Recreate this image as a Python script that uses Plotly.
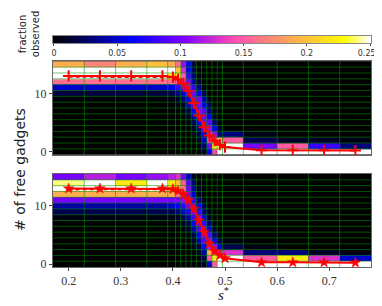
import numpy as np
import plotly.graph_objects as go

# ---------------- data ----------------
s_star = [0.20, 0.26, 0.32, 0.38, 0.40, 0.41, 0.42, 0.43, 0.44, 0.45, 0.46,
          0.47, 0.48, 0.49, 0.50, 0.57, 0.63, 0.69, 0.75]
n_free = list(range(16))  # rows 0..15

# fraction observed, rows listed from top (15) to bottom (0)
top_rows = [
    [.19, .17, .19, .20, .19, .16, .11, .06, .015, 0, 0, 0, 0, 0, 0, 0, 0, 0, 0],
    [.30, .30, .30, .30, .25, .20, .13, .06, .02, 0, 0, 0, 0, 0, 0, 0, 0, 0, 0],
    [.30, .30, .30, .30, .22, .21, .15, .08, .03, .005, 0, 0, 0, 0, 0, 0, 0, 0, 0],
    [.16, .16, .16, .16, .16, .15, .13, .10, .04, .01, 0, 0, 0, 0, 0, 0, 0, 0, 0],
    [.05, .05, .05, .05, .06, .08, .10, .11, .08, .03, .005, 0, 0, 0, 0, 0, 0, 0, 0],
    [.015, .015, .015, .015, .02, .03, .05, .09, .10, .06, .02, 0, 0, 0, 0, 0, 0, 0, 0],
    [.003, .003, .003, .003, .005, .01, .03, .06, .10, .10, .04, .005, 0, 0, 0, 0, 0, 0, 0],
    [0, 0, 0, 0, .002, .004, .01, .05, .08, .10, .06, .02, 0, 0, 0, 0, 0, 0, 0],
    [0, 0, 0, 0, 0, .002, .005, .02, .06, .10, .09, .03, .005, 0, 0, 0, 0, 0, 0],
    [0, 0, 0, 0, 0, 0, .002, .01, .04, .08, .10, .06, .01, 0, 0, 0, 0, 0, 0],
    [0, 0, 0, 0, 0, 0, 0, .005, .02, .06, .10, .09, .03, 0, 0, 0, 0, 0, 0],
    [0, 0, 0, 0, 0, 0, 0, .002, .01, .03, .10, .11, .06, .01, 0, 0, 0, 0, 0],
    [0, 0, 0, 0, 0, 0, 0, 0, .005, .02, .06, .13, .11, .03, .03, .005, 0, 0, 0],
    [0, 0, 0, 0, 0, 0, 0, 0, .002, .01, .05, .14, .15, .19, .15, .02, .01, .01, .005],
    [0, 0, 0, 0, 0, 0, 0, 0, .001, .005, .03, .10, .22, .24, .30, .10, .15, .08, .03],
    [0, 0, 0, 0, 0, 0, 0, 0, .001, .003, .01, .06, .14, .30, .30, .30, .30, .30, .30],
]

bot_rows = [
    [.10, .12, .10, .11, .12, .13, .10, .05, .01, 0, 0, 0, 0, 0, 0, 0, 0, 0, 0],
    [.24, .25, .22, .25, .22, .20, .15, .09, .03, .005, 0, 0, 0, 0, 0, 0, 0, 0, 0],
    [.30, .30, .30, .30, .22, .20, .16, .10, .04, .01, 0, 0, 0, 0, 0, 0, 0, 0, 0],
    [.19, .19, .19, .19, .19, .16, .14, .10, .05, .01, 0, 0, 0, 0, 0, 0, 0, 0, 0],
    [.10, .10, .10, .10, .10, .10, .11, .11, .08, .03, .005, 0, 0, 0, 0, 0, 0, 0, 0],
    [.04, .04, .04, .04, .05, .06, .08, .10, .10, .06, .02, 0, 0, 0, 0, 0, 0, 0, 0],
    [.02, .02, .02, .02, .02, .03, .05, .07, .10, .08, .03, .005, 0, 0, 0, 0, 0, 0, 0],
    [.005, .005, .005, .005, .005, .01, .02, .04, .08, .10, .05, .01, 0, 0, 0, 0, 0, 0, 0],
    [0, 0, 0, 0, 0, .004, .01, .02, .06, .10, .08, .03, .005, 0, 0, 0, 0, 0, 0],
    [0, 0, 0, 0, 0, 0, .004, .01, .04, .09, .10, .05, .01, 0, 0, 0, 0, 0, 0],
    [0, 0, 0, 0, 0, 0, 0, .005, .02, .06, .10, .09, .03, .005, 0, 0, 0, 0, 0],
    [0, 0, 0, 0, 0, 0, 0, .002, .01, .04, .09, .11, .06, .02, .005, 0, 0, 0, 0],
    [0, 0, 0, 0, 0, 0, 0, 0, .005, .02, .06, .12, .11, .05, .02, .005, 0, 0, 0],
    [0, 0, 0, 0, 0, 0, 0, 0, .002, .01, .04, .19, .15, .13, .13, .03, .03, .01, .005],
    [0, 0, 0, 0, 0, 0, 0, 0, .001, .005, .02, .15, .22, .26, .30, .15, .22, .13, .05],
    [0, 0, 0, 0, 0, 0, 0, 0, .001, .003, .01, .05, .15, .28, .30, .30, .30, .30, .30],
]

top_mean = [13.0, 13.0, 13.0, 13.0, 12.8, 12.4, 11.7, 10.4, 8.3, 6.2, 4.2,
            2.8, 1.9, 1.2, 0.8, 0.25, 0.25, 0.25, 0.2]
bot_mean = [13.0, 13.0, 13.0, 13.0, 12.9, 12.6, 12.0, 11.0, 9.5, 7.5, 5.5,
            3.5, 2.2, 1.5, 1.0, 0.3, 0.3, 0.3, 0.25]
top_dash = [12.85, 12.85, 12.85, 12.85, 12.8]
bot_dash = [12.85, 12.85, 12.85, 12.85, 12.9]

cbar_vals = [0, 0.05, 0.1, 0.15, 0.2, 0.25]
cbar_text = ["0", "0.05", "0.1", "0.15", "0.2", "0.25+"]

# ---------------- style ----------------
def gnuplot2(v):
    r = min(max(v / 0.32 - 0.78125, 0), 1)
    g = min(max(2 * v - 0.84, 0), 1)
    if v < 0.25:
        b = 4 * v
    elif v < 0.42:
        b = 1.0
    elif v < 0.92:
        b = -2 * v + 1.84
    else:
        b = v / 0.08 - 11.5
    b = min(max(b, 0), 1)
    return f"rgb({int(r*255)},{int(g*255)},{int(b*255)})"

cscale = [[t, gnuplot2(t)] for t in np.linspace(0, 1, 41)]
ZMAX = 0.25

xs = np.array(s_star)
mids = (xs[1:] + xs[:-1]) / 2
edges = np.concatenate([[xs[0] - (xs[1] - xs[0]) / 2], mids, [xs[-1] + (xs[-1] - xs[-2]) / 2]])
ys = np.array(n_free)
yedges = np.concatenate([[ys[0] - 0.5], (ys[1:] + ys[:-1]) / 2, [ys[-1] + 0.5]])

fig = go.Figure()

def add_panel(rows, mean, dash, symbol, xa, ya):
    z = np.minimum(np.array(rows[::-1], dtype=float), ZMAX)
    fig.add_trace(go.Heatmap(x=s_star, y=n_free, z=z, zmin=0, zmax=ZMAX, colorscale=cscale,
                             xaxis=xa, yaxis=ya, showscale=False, hoverinfo="skip"))
    # grid lines at cell boundaries
    gx, gy = [], []
    for e in edges[1:-1]:
        gx += [e, e, None]; gy += [yedges[0], yedges[-1], None]
    for e in yedges[1:-1]:
        gx += [edges[0], edges[-1], None]; gy += [e, e, None]
    fig.add_trace(go.Scatter(x=gx, y=gy, mode="lines", xaxis=xa, yaxis=ya,
                             line=dict(color="rgba(0,150,0,0.55)", width=1),
                             hoverinfo="skip", showlegend=False))
    fig.add_trace(go.Scatter(x=s_star[:len(dash)], y=dash, mode="lines", xaxis=xa, yaxis=ya,
                             line=dict(color="red", width=2, dash="4px,3px"),
                             hoverinfo="skip", showlegend=False))
    if symbol == "cross":
        mk = dict(symbol="cross-thin", size=8, color="red", line=dict(color="red", width=2))
    else:
        mk = dict(symbol="star", size=8, color="red", line=dict(color="red", width=0.5))
    fig.add_trace(go.Scatter(x=s_star, y=mean, mode="lines+markers", xaxis=xa, yaxis=ya,
                             line=dict(color="red", width=2), marker=mk,
                             hoverinfo="skip", showlegend=False))

add_panel(top_rows, top_mean, top_dash, "cross", "x", "y")
add_panel(bot_rows, bot_mean, bot_dash, "star", "x2", "y2")

# colour bar drawn as its own strip (the colour scale from 0 to 0.25+)
cb_x = np.linspace(0, ZMAX, 161)
fig.add_trace(go.Heatmap(x=cb_x, y=[0], z=[cb_x], zmin=0, zmax=ZMAX, colorscale=cscale,
                         xaxis="x3", yaxis="y3", showscale=False, hoverinfo="skip"))

xr = [edges[0], edges[-1]]
yr = [yedges[0], yedges[-1]]
tickfont = dict(family="Liberation Serif", size=12, color="#333")
axis_common = dict(showgrid=False, zeroline=False, showline=True, mirror=True,
                   linecolor="#666", linewidth=1)
fig.update_layout(
    width=382, height=306, margin=dict(l=45, r=19, t=20, b=47, autoexpand=False),
    paper_bgcolor="white", plot_bgcolor="black", showlegend=False,
    xaxis=dict(range=xr, domain=[0, 1], anchor="y", showticklabels=False, ticks="", **axis_common),
    yaxis=dict(range=yr, domain=[0.4699, 0.8607], anchor="x", tickvals=[0, 10], ticks="outside",
               ticklen=3, tickcolor="#444", tickfont=tickfont, **axis_common),
    xaxis2=dict(range=xr, domain=[0, 1], anchor="y2", tickvals=[0.2, 0.3, 0.4, 0.5, 0.6, 0.7],
                ticks="outside", ticklen=3, tickcolor="#444", tickfont=tickfont, **axis_common),
    yaxis2=dict(range=yr, domain=[0, 0.3891], anchor="x2", tickvals=[0, 10], ticks="outside",
                ticklen=3, tickcolor="#444", tickfont=tickfont, **axis_common),
    xaxis3=dict(range=[-ZMAX / 320, ZMAX + ZMAX / 320], domain=[0, 1], anchor="y3",
                tickvals=cbar_vals, ticktext=cbar_text, ticks="outside", ticklen=2,
                tickcolor="#444", tickfont=dict(family="DejaVu Sans", size=8, color="#333"),
                showgrid=False, zeroline=False, showline=True, mirror=True,
                linecolor="#888", linewidth=1),
    yaxis3=dict(range=[-0.5, 0.5], domain=[0.9372, 0.9665], anchor="x3", showticklabels=False,
                ticks="", showgrid=False, zeroline=False, showline=True, mirror=True,
                linecolor="#888", linewidth=1),
)
fig.add_annotation(text="# of free gadgets", xref="paper", yref="paper", x=-0.104, y=0.41,
                   xanchor="center", yanchor="middle",
                   textangle=-90, showarrow=False, font=dict(family="DejaVu Sans", size=14, color="#222"))
fig.add_annotation(text="<i>s</i><sup>*</sup>", xref="paper", yref="paper", x=0.535, y=-0.112,
                   xanchor="center", yanchor="middle",
                   showarrow=False, font=dict(family="Liberation Serif", size=15, color="#222"))
fig.add_annotation(text="fraction<br>observed", xref="paper", yref="paper", x=-0.075, y=0.975,
                   xanchor="center", yanchor="middle",
                   textangle=-90, showarrow=False, align="center",
                   font=dict(family="DejaVu Sans", size=10, color="#222"))

fig.write_html("out.html")
